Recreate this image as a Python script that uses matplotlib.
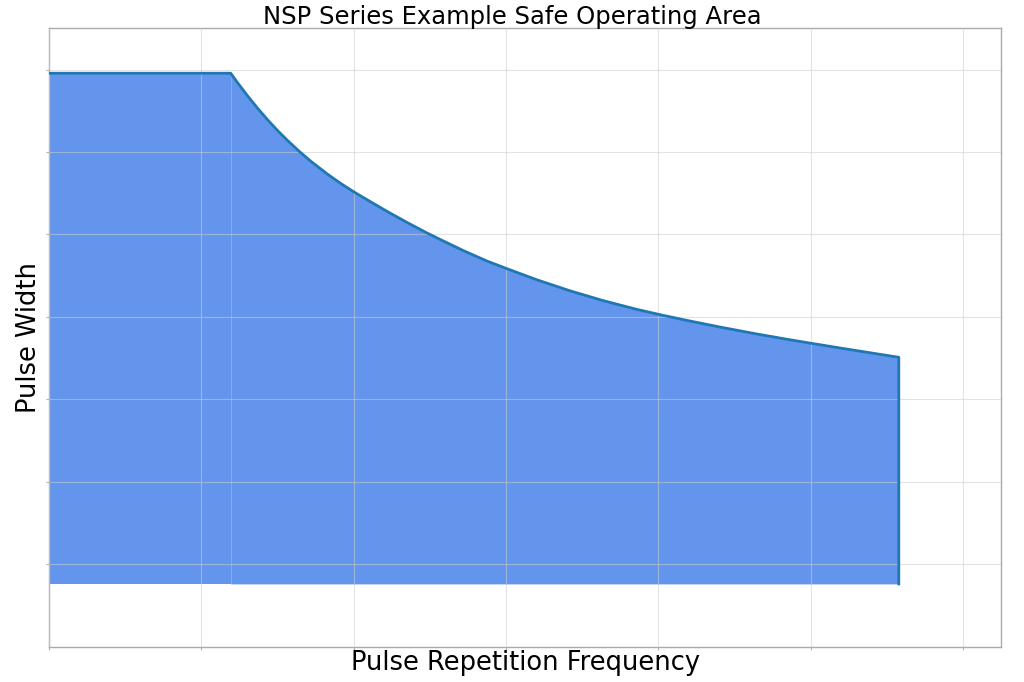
import matplotlib
matplotlib.use("Agg")
import matplotlib.pyplot as plt

# Data (arbitrary units; the original shows no tick labels)
flat_x = [0.0, 1.193]
flat_y = [5.955, 5.955]
curve_x = [1.193, 1.241, 1.306, 1.372, 1.438, 1.503, 1.569, 1.646, 1.722, 1.831,
           1.919, 2.007, 2.115, 2.225, 2.356, 2.476, 2.566, 2.719, 2.873, 3.004,
           3.201, 3.419, 3.638, 3.857, 4.010, 4.196, 4.415, 4.633, 4.852, 5.005,
           5.202, 5.399, 5.578]
curve_y = [5.955, 5.833, 5.675, 5.525, 5.384, 5.255, 5.134, 5.002, 4.882, 4.727,
           4.613, 4.509, 4.391, 4.273, 4.139, 4.022, 3.940, 3.804, 3.678, 3.585,
           3.450, 3.316, 3.196, 3.091, 3.026, 2.953, 2.872, 2.796, 2.725, 2.678,
           2.619, 2.561, 2.509]
floor_y = -0.24
x_grid = [0, 1, 2, 3, 4, 5, 6]
y_grid = [0, 1, 2, 3, 4, 5, 6]

fig = plt.figure(figsize=(10.24, 6.82), dpi=100)
ax = fig.add_axes([0.0478, 0.052, 0.9302, 0.9065])

fill_color = "#6495ED"
ax.fill_between(flat_x, floor_y, flat_y, color=fill_color, linewidth=0, zorder=1)
ax.fill_between(curve_x, floor_y, curve_y, color=fill_color, linewidth=0, zorder=1)

line_x = flat_x + curve_x[1:] + [curve_x[-1]]
line_y = flat_y + curve_y[1:] + [floor_y]
ax.plot(line_x, line_y, color="#1f77b4", linewidth=2.0, zorder=3,
        solid_joinstyle="round")

ax.set_xlim(0, 6.252)
ax.set_ylim(-1, 6.5)
ax.set_xticks(x_grid)
ax.set_yticks(y_grid)
ax.set_xticklabels([])
ax.set_yticklabels([])
ax.tick_params(length=2, width=0.8, color="#b0b0b0")
ax.set_axisbelow(False)
ax.grid(True, color="#cccccc", alpha=0.55, linewidth=0.8, zorder=2)
for s in ax.spines.values():
    s.set_color("#aaaaaa")
    s.set_linewidth(1.0)

ax.set_xlabel("Pulse Repetition Frequency", fontsize=18.5)
ax.xaxis.set_label_coords(0.5, -0.006)
ax.set_ylabel("Pulse Width", fontsize=18.5)
ax.yaxis.set_label_coords(-0.007, 0.5)
fig.suptitle("NSP Series Example Safe Operating Area", fontsize=17.5, y=0.992)

fig.savefig("out.png", dpi=100)
